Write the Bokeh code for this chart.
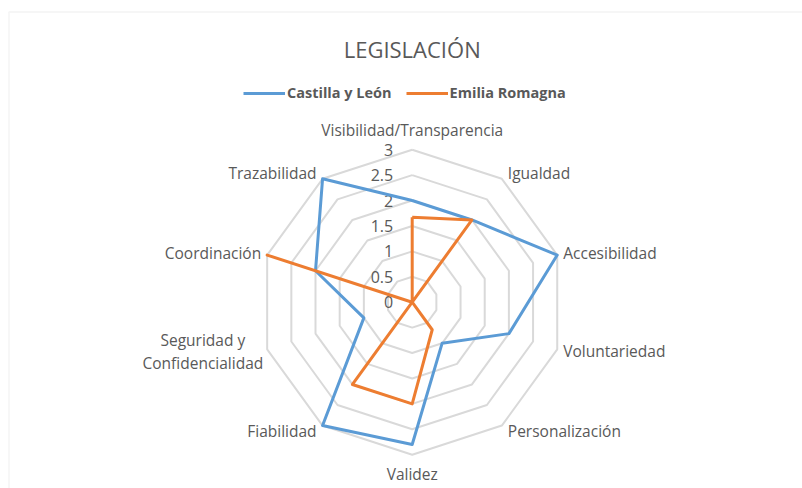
import math
from bokeh.plotting import figure
from bokeh.models import Legend, LegendItem, Label, BoxAnnotation, Range1d
from bokeh.core.properties import value
from bokeh.embed import file_html
from bokeh.resources import INLINE

# ---------------- data ----------------
categories = ["Visibilidad/Transparencia", "Igualdad", "Accesibilidad", "Voluntariedad",
              "Personalización", "Validez", "Fiabilidad", "Seguridad y\nConfidencialidad",
              "Coordinación", "Trazabilidad"]
castilla_y_leon = [2, 2, 3, 2, 1, 2.8, 3, 1, 2, 3]
emilia_romagna = [1.67, 2, 0, 0, 0.67, 2, 2, 0, 3, 0]
ticks = [0, 0.5, 1, 1.5, 2, 2.5, 3]
tick_labels = ["0", "0.5", "1", "1.5", "2", "2.5", "3"]
series_names = ["Castilla y León", "Emilia Romagna"]
title_text = "LEGISLACIÓN"

# ---------------- layout ----------------
W, H = 802, 488
CX, CY = 411.7, 301.7        # centre in canvas pixels
PX = 152.5 / 3.0             # pixels per unit

def x_of(px):
    return (px - CX) / PX

def y_of(py):
    return (CY - py) / PX

GRID = "#D9D9D9"
TXT = "#595959"
BLUE = "#5B9BD5"
ORANGE = "#ED7D31"
FONT = "Open Sans"
LABEL_SIZE = 15.5

p = figure(width=W, height=H, output_backend="svg", toolbar_location=None,
           x_range=Range1d(x_of(0), x_of(W)), y_range=Range1d(y_of(H), y_of(0)),
           min_border=0, min_border_left=0, min_border_right=0,
           min_border_top=0, min_border_bottom=0)
p.axis.visible = False
p.grid.visible = False
p.outline_line_color = None
p.background_fill_color = "white"
p.border_fill_color = "white"

n = len(categories)
angles = [2 * math.pi * i / n for i in range(n)]

def polar(vals):
    xs = [v * math.sin(a) for v, a in zip(vals, angles)]
    ys = [v * math.cos(a) for v, a in zip(vals, angles)]
    return xs + xs[:1], ys + ys[:1]

# rings
ring_xs, ring_ys = [], []
for t in ticks[1:]:
    xs, ys = polar([t] * n)
    ring_xs.append(xs)
    ring_ys.append(ys)
p.multi_line(ring_xs, ring_ys, line_color=GRID, line_width=2)

# tick labels
p.text(x=[0] * len(ticks), y=ticks, text=tick_labels, text_align="right",
       text_baseline="middle", x_offset=-19, text_color=TXT,
       text_font=value(FONT), text_font_size="16px")

# category labels
R = ticks[-1]
for cat, a in zip(categories, angles):
    s, c = math.sin(a), math.cos(a)
    x, y = R * s, R * c
    if abs(s) < 1e-6:
        align = "center"
        xo = 0
        if c > 0:
            base, yo = "bottom", -9
        else:
            base, yo = "top", 8
    else:
        align = "left" if s > 0 else "right"
        xo = 6 if s > 0 else -6
        base = "middle"
        yo = -c * 7
        if "\n" in cat:
            half = max(len(t) for t in cat.split("\n")) * 0.47 * LABEL_SIZE / 2
            align = "center"
            xo = (6 + half) * (1 if s > 0 else -1)
    p.text(x=[x], y=[y], text=[cat], text_align=align, text_baseline=base,
           x_offset=xo, y_offset=yo, text_color=TXT, text_font=value(FONT),
           text_font_size=f"{LABEL_SIZE}px", text_line_height=1.05)

# series
renderers = []
for vals, col in [(castilla_y_leon, BLUE), (emilia_romagna, ORANGE)]:
    xs, ys = polar(vals)
    r = p.line(xs, ys, line_color=col, line_width=3, line_join="round")
    renderers.append(r)

# legend
legend = Legend(items=[LegendItem(label=nm, renderers=[r]) for nm, r in zip(series_names, renderers)],
                orientation="horizontal", location=(243, H - 102),
                label_text_font=FONT, label_text_font_style="bold",
                label_text_font_size="14.5px", label_text_color=TXT,
                glyph_width=42, glyph_height=16, label_height=16,
                label_standoff=2, spacing=14, padding=0, margin=0,
                border_line_color=None, background_fill_alpha=0)
p.add_layout(legend, "center")

# title
p.add_layout(Label(x=0, y=y_of(48), text=title_text, text_align="center",
                   text_baseline="middle", text_color=TXT, text_font=FONT,
                   text_font_size="22px"))

# chart-area border
p.add_layout(BoxAnnotation(left=x_of(8.5), top=y_of(11.5), right=x_of(W + 50),
                           bottom=y_of(H + 50), fill_alpha=0, line_color=GRID,
                           line_width=1.5))

open("out.html", "w").write(file_html(p, INLINE))
